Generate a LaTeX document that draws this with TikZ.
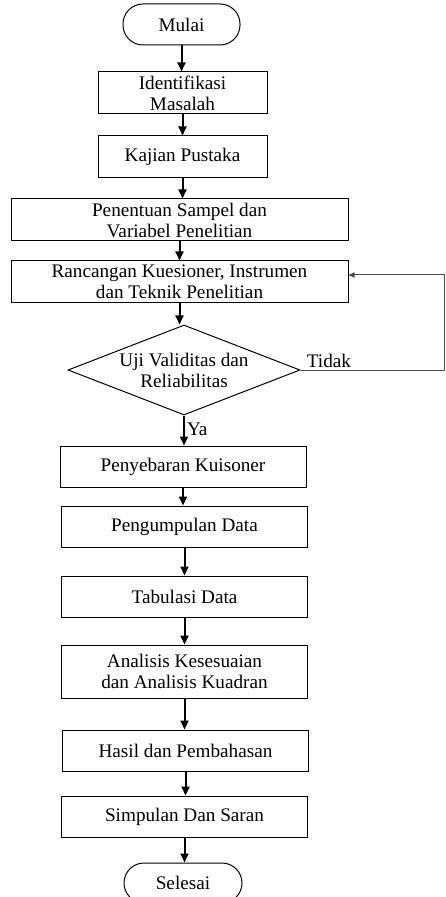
\documentclass[tikz,border=0pt]{standalone}
\usepackage{fontspec}
\setmainfont{Liberation Serif}
\usetikzlibrary{positioning}
\usetikzlibrary{shapes.geometric,arrows.meta}

\begin{document}
\begin{tikzpicture}
	[x=0.5pt,y=-0.5pt,>={Triangle[length=4.5pt,width=4pt]},
	font=\fontsize{9.6}{10.5}\selectfont,
	terminal/.style={rectangle,draw,line width=0.5pt,rounded corners=10pt,inner sep=0pt,minimum width=58.5pt,minimum height=20.5pt},
	proses/.style={rectangle,draw,line width=0.5pt,inner sep=0pt,align=center},
	kecil/.style={proses,minimum width=84.5pt,minimum height=21pt},
	lebar/.style={proses,minimum width=168.5pt,minimum height=21pt},
	sedang/.style={proses,minimum width=123pt,minimum height=20.5pt},
	keputusan/.style={diamond,draw,line width=0.5pt,inner sep=-2pt,aspect=2.58,align=center,minimum width=116pt,minimum height=45pt},
	panah/.style={->,line width=1pt},
	umpan/.style={-{Triangle[length=3pt,width=2.6pt]},line width=0.5pt,draw=black!70}]
	\clip (0,0) rectangle (445,897);
	\node at (181.5,24.5) [terminal] (mulai) {Mulai};
	\node at (182.5,93) [kecil] (identifikasi) {Identifikasi\\Masalah};
	\node at (182.5,157) [kecil] (kajian) {Kajian Pustaka};
	\node at (179.5,220) [lebar] (penentuan) {Penentuan Sampel dan\\Variabel Penelitian};
	\node at (179.5,282) [lebar] (rancangan) {Rancangan Kuesioner, Instrumen\\dan Teknik Penelitian};
	\node at (184,370) [keputusan] (uji) {Uji Validitas dan\\Reliabilitas};
	\node at (183,466.5) [sedang] (penyebaran) {Penyebaran Kuisoner};
	\node at (184.5,526.5) [sedang] (pengumpulan) {Pengumpulan Data};
	\node at (184.5,596.5) [sedang] (tabulasi) {Tabulasi Data};
	\node at (184.5,671.5) [sedang,minimum height=26.5pt] (analisis) {Analisis Kesesuaian\\dan Analisis Kuadran};
	\node at (185.5,750.5) [sedang] (hasil) {Hasil dan Pembahasan};
	\node at (184.5,816.5) [sedang] (simpulan) {Simpulan Dan Saran};
	\node at (183,883) [terminal,minimum width=59pt,minimum height=20pt] (selesai) {Selesai};
	\node (tidak) [above right=0pt and 2pt of uji.east,inner sep=1pt] {Tidak};
	\coordinate (balik) at (444,275);
	% alur utama
	\draw [panah] (mulai.south) -- (mulai.south |- identifikasi.north);
	\draw [panah] (identifikasi.south) -- (identifikasi.south |- kajian.north);
	\draw [panah] (kajian.south) -- (kajian.south |- penentuan.north);
	\draw [panah] (penentuan.south) -- (penentuan.south |- rancangan.north);
	\draw [panah] (rancangan.south) -- (rancangan.south |- uji.north);
	\draw [panah] (uji.south) -- (uji.south |- penyebaran.north) node [right, pos=0.45, inner sep=1pt] {Ya};
	\draw [panah] (penyebaran.south) -- (penyebaran.south |- pengumpulan.north);
	\draw [panah] (pengumpulan.south) -- (pengumpulan.south |- tabulasi.north);
	\draw [panah] (tabulasi.south) -- (tabulasi.south |- analisis.north);
	\draw [panah] (analisis.south) -- (analisis.south |- hasil.north);
	\draw [panah] (hasil.south) -- (hasil.south |- simpulan.north);
	\draw [panah] (simpulan.south) -- (simpulan.south |- selesai.north);
	% kembali bila tidak valid
	\draw [umpan] (uji.east) -- (uji.east -| balik) -- (balik) -- (balik -| rancangan.east);
\end{tikzpicture}
\end{document}
